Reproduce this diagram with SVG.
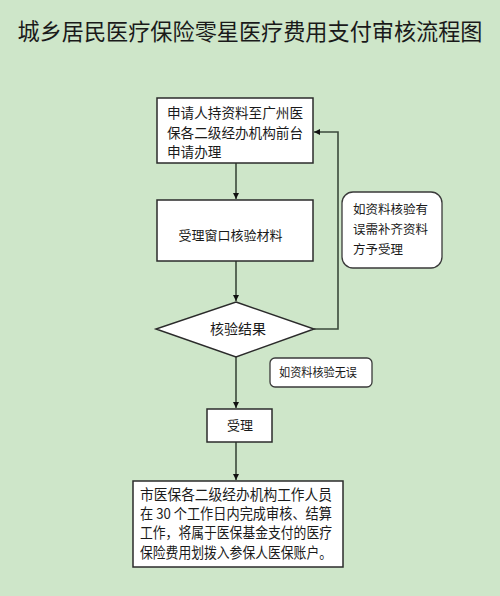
<svg xmlns="http://www.w3.org/2000/svg" width="500" height="596" viewBox="0 0 500 596">
<style>
.t{font-family:"Noto Sans CJK SC","Liberation Sans",sans-serif;fill:#1a1a1a}
.box{fill:#ffffff;stroke:#2b2b2b;stroke-width:1.5}
.note{fill:#ffffff;stroke:#3a3a3a;stroke-width:1.3}
.ln{fill:none;stroke:#3b4a3b;stroke-width:1.6}
</style>
<defs>
<marker id="ah" viewBox="0 0 10 10" refX="10" refY="5" markerWidth="6" markerHeight="6" markerUnits="userSpaceOnUse" orient="auto">
<path d="M0,0 L10,5 L0,10 z" fill="#111"/>
</marker>
</defs>
<rect width="500" height="596" fill="#cee6c9"/>
<text class="t" x="250" y="40" font-size="22.5" text-anchor="middle" textLength="465" lengthAdjust="spacingAndGlyphs">城乡居民医疗保险零星医疗费用支付审核流程图</text>

<g id="connectors">
<line class="ln" x1="236" y1="163" x2="236" y2="199" marker-end="url(#ah)"/>
<line class="ln" x1="236" y1="261" x2="236" y2="301" marker-end="url(#ah)"/>
<line class="ln" x1="236" y1="357" x2="236" y2="408" marker-end="url(#ah)"/>
<line class="ln" x1="236" y1="442" x2="236" y2="480" marker-end="url(#ah)"/>
<polyline class="ln" points="314,329 338,329 338,132 314,132" marker-end="url(#ah)"/>
</g>

<g id="apply">
<rect class="box" x="157" y="98" width="156" height="65"/>
<text class="t" font-size="14" x="167" y="118" textLength="136" lengthAdjust="spacingAndGlyphs">申请人持资料至广州医</text>
<text class="t" font-size="14" x="167" y="138" textLength="136" lengthAdjust="spacingAndGlyphs">保各二级经办机构前台</text>
<text class="t" font-size="14" x="167" y="157" textLength="54.5" lengthAdjust="spacingAndGlyphs">申请办理</text>
</g>

<g id="check">
<rect class="box" x="157" y="200" width="156" height="61"/>
<text class="t" font-size="13" x="230.5" y="240" text-anchor="middle">受理窗口核验材料</text>
</g>

<g id="result">
<polygon class="box" points="236,302 314,329 236,357 156,329"/>
<text class="t" font-size="14" x="238" y="334" text-anchor="middle">核验结果</text>
</g>

<g id="note-error">
<rect class="note" x="342" y="192" width="100" height="76" rx="11"/>
<text class="t" font-size="12.5" x="353" y="214" textLength="75" lengthAdjust="spacingAndGlyphs">如资料核验有</text>
<text class="t" font-size="12.5" x="353" y="234" textLength="75" lengthAdjust="spacingAndGlyphs">误需补齐资料</text>
<text class="t" font-size="12.5" x="353" y="254">方予受理</text>
</g>

<g id="note-ok">
<rect class="note" x="270" y="358" width="102" height="29" rx="5"/>
<text class="t" font-size="12" x="318" y="377" text-anchor="middle" textLength="78" lengthAdjust="spacingAndGlyphs">如资料核验无误</text>
</g>

<g id="accept">
<rect class="box" x="207" y="409" width="65" height="33"/>
<text class="t" font-size="13" x="240" y="430" text-anchor="middle">受理</text>
</g>

<g id="final">
<rect class="box" x="133" y="481" width="210" height="86"/>
<text class="t" font-size="14.5" x="140" y="500" textLength="192" lengthAdjust="spacingAndGlyphs">市医保各二级经办机构工作人员</text>
<text class="t" font-size="14.5" x="140" y="519" textLength="192" lengthAdjust="spacingAndGlyphs">在 30 个工作日内完成审核、结算</text>
<text class="t" font-size="14.5" x="140" y="538" textLength="192" lengthAdjust="spacingAndGlyphs">工作，将属于医保基金支付的医疗</text>
<text class="t" font-size="14.5" x="140" y="558" textLength="192" lengthAdjust="spacingAndGlyphs">保险费用划拨入参保人医保账户。</text>
</g>
</svg>
